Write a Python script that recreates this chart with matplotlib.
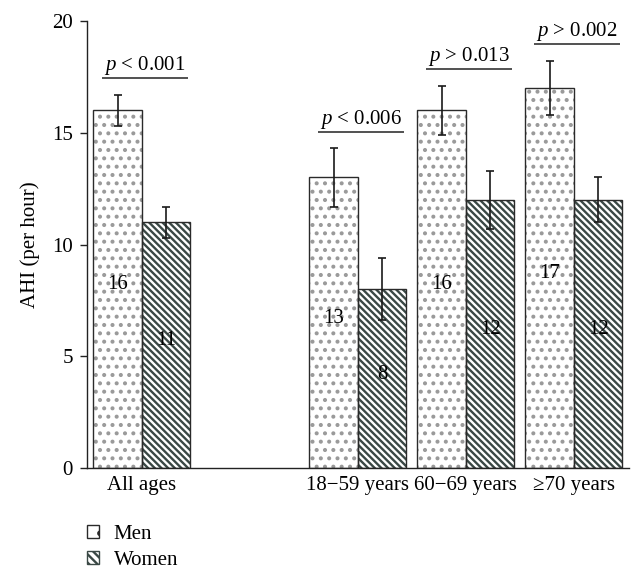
import numpy as np
import matplotlib.pyplot as plt
from matplotlib.patches import Patch

plt.rcParams['font.family'] = ['Liberation Serif', 'DejaVu Serif']
plt.rcParams['mathtext.fontset'] = 'custom'
plt.rcParams['mathtext.it'] = 'Liberation Serif:italic'
plt.rcParams['mathtext.rm'] = 'Liberation Serif'
plt.rcParams['hatch.linewidth'] = 1.7

# data
groups = ['All ages', '18\u221259 years', '60\u221269 years', '\u226570 years']
group_pos = [0, 2, 3, 4]
men = [16, 13, 16, 17]
women = [11, 8, 12, 12]
men_err = [0.7, 1.3, 1.1, 1.2]
women_err = [0.7, 1.4, 1.3, 1.0]
p_labels = ['< 0.001', '< 0.006', '> 0.013', '> 0.002']

FS = 15
w = 0.449
edge = '#2a2a2a'
dot_col = '#9a9a9a'
stripe_col = '#3a4845'

fig = plt.figure(figsize=(6.43, 5.79), dpi=100)
ax = fig.add_axes([87/643, 111/579, 542/643, 447/579])

x = np.array(group_pos, dtype=float)
xm = x - w/2
xw = x + w/2

# hatched fill (hatch colour = edgecolor), then outline on top
ax.bar(xm, men, w, facecolor='white', edgecolor=dot_col, hatch='..', linewidth=0)
ax.bar(xw, women, w, facecolor='white', edgecolor=stripe_col, hatch='\\\\\\\\\\', linewidth=0)
ax.bar(xm, men, w, fill=False, edgecolor=edge, linewidth=1.0)
ax.bar(xw, women, w, fill=False, edgecolor=edge, linewidth=1.0)

ax.errorbar(xm, men, yerr=men_err, fmt='none', ecolor='#1a1a1a', elinewidth=1.2, capsize=2.6, capthick=1.2)
ax.errorbar(xw, women, yerr=women_err, fmt='none', ecolor='#1a1a1a', elinewidth=1.2, capsize=2.6, capthick=1.2)

# numbers inside bars
for i in range(len(groups)):
    ax.text(xm[i], men[i]/2 + 0.2, str(men[i]), ha='center', va='center', fontsize=FS)
    ax.text(xw[i], women[i]/2 + 0.2, str(women[i]), ha='center', va='center', fontsize=FS)

# p-values with underline
for i in range(len(groups)):
    top = max(men[i] + men_err[i], women[i] + women_err[i])
    ly = top + 0.75
    c = x[i] + 0.03
    ax.plot([c - 0.40, c + 0.40], [ly, ly], color='#222222', lw=1.1, solid_capstyle='butt')
    ax.text(c, ly + 0.36, r'$p$ ' + p_labels[i], ha='center', va='baseline', fontsize=FS)

ax.set_xlim(-0.509, 4.51)
ax.set_ylim(0, 20)
ax.set_yticks([0, 5, 10, 15, 20])
ax.set_xticks(x)
ax.set_xticklabels(groups)
ax.set_ylabel('AHI (per hour)', fontsize=FS, labelpad=9)

for s in ['top', 'right']:
    ax.spines[s].set_visible(False)
for s in ['left', 'bottom']:
    ax.spines[s].set_linewidth(1.0)
    ax.spines[s].set_color('#222222')
ax.tick_params(axis='y', direction='out', length=5, width=1.0, pad=5, labelsize=FS, color='#222222')
ax.tick_params(axis='x', length=0, pad=6, labelsize=FS)

handles = [Patch(facecolor='white', edgecolor=edge, hatch='.', linewidth=1.0),
           Patch(facecolor='white', edgecolor=stripe_col, hatch='\\\\\\\\', linewidth=1.0)]
ax.legend(handles, ['Men', 'Women'], loc='upper left', bbox_to_anchor=(87/643, 1 - 525/579),
          bbox_transform=fig.transFigure, frameon=False, fontsize=FS, handlelength=0.58,
          handleheight=0.58, handletextpad=0.7, labelspacing=0.35, borderpad=0, borderaxespad=0)

fig.savefig('out.png', dpi=100)
